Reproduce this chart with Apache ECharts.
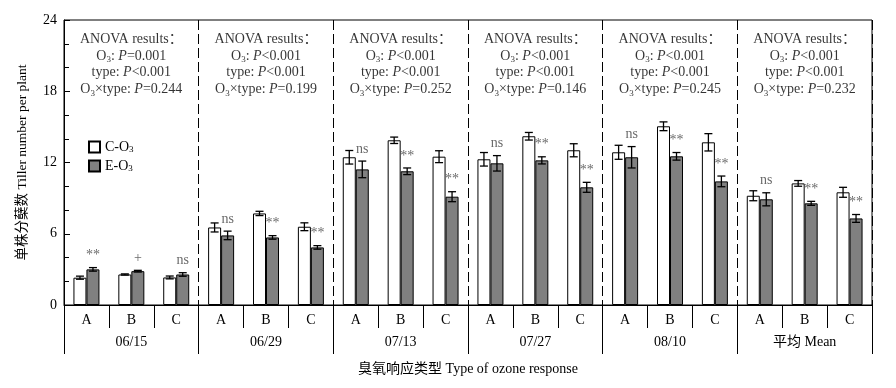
<!DOCTYPE html>
<html><head><meta charset="utf-8">
<script src="https://cdn.jsdelivr.net/npm/echarts@6/dist/echarts.min.js"></script>
<style>html,body{margin:0;padding:0;background:#fff}#c{width:896px;height:388px}</style>
</head><body><div id="c"></div>
<script>
// ---- data ----
const groups = ['06/15', '06/29', '07/13', '07/27', '08/10', '平均 Mean'];
const types = ['A', 'B', 'C'];
const ctrl    = [2.30, 2.57, 2.32, 6.53, 7.71, 6.59, 12.44, 13.87, 12.49, 12.27, 14.21, 13.03, 12.86, 15.05, 13.70, 9.20, 10.24, 9.49];
const ctrlErr = [0.13, 0.05, 0.12, 0.38, 0.18, 0.33, 0.57, 0.27, 0.50, 0.57, 0.32, 0.55, 0.59, 0.37, 0.73, 0.42, 0.24, 0.42];
const elev    = [3.00, 2.85, 2.57, 5.86, 5.69, 4.85, 11.42, 11.26, 9.12, 11.93, 12.18, 9.91, 12.44, 12.52, 10.41, 8.90, 8.56, 7.29];
const elevErr = [0.15, 0.07, 0.15, 0.36, 0.15, 0.15, 0.70, 0.28, 0.42, 0.65, 0.30, 0.42, 0.90, 0.32, 0.45, 0.55, 0.17, 0.33];
const sig = ['**', '+', 'ns', 'ns', '**', '**', 'ns', '**', '**', 'ns', '**', '**', 'ns', '**', '**', 'ns', '**', '**'];
const o3P    = ['=0.001', '<0.001', '<0.001', '<0.001', '<0.001', '<0.001'];
const typeP  = ['<0.001', '<0.001', '<0.001', '<0.001', '<0.001', '<0.001'];
const interP = ['=0.244', '=0.199', '=0.252', '=0.146', '=0.245', '=0.232'];
const yTicks = [0, 6, 12, 18, 24];
const seriesNames = ['C-O3', 'E-O3'];

// ---- chart ----
const FONT = '"Liberation Serif","Times New Roman","Noto Sans CJK SC",serif';
const BW = 13;
const catData = [];
groups.forEach(g => types.forEach(t => catData.push(g + '|' + t)));
const subRich = { sub: { fontSize: 9, fontFamily: FONT, color: '#000', verticalAlign: 'bottom', padding: [5, 0, 0, 0] },
                  i: { fontStyle: 'italic', fontSize: 14, fontFamily: FONT, color: '#000' } };

function errRender(side) {
  return function (params, api) {
    const x = api.value(0), v = api.value(1), e = api.value(2);
    const hi = api.coord([x, v + e]), lo = api.coord([x, v - e]);
    const cx = hi[0] + side * BW / 2;
    const cap = 4;
    const st = { stroke: '#000', lineWidth: 1.3 };
    return { type: 'group', children: [
      { type: 'line', shape: { x1: cx, y1: hi[1], x2: cx, y2: lo[1] }, style: st },
      { type: 'line', shape: { x1: cx - cap, y1: hi[1], x2: cx + cap, y2: hi[1] }, style: st },
      { type: 'line', shape: { x1: cx - cap, y1: lo[1], x2: cx + cap, y2: lo[1] }, style: st }
    ] };
  };
}

const chart = echarts.init(document.getElementById('c'));
chart.setOption({
  animation: false,
  backgroundColor: '#fff',
  textStyle: { fontFamily: FONT },
  grid: { left: 64, right: 24, top: 20, bottom: 83, show: true, borderColor: '#000', borderWidth: 1, backgroundColor: 'transparent' },
  legend: {
    data: seriesNames, orient: 'vertical', left: 88, top: 140, padding: 0, itemGap: 5,
    itemWidth: 11, itemHeight: 11, icon: 'rect',
    formatter: n => n.replace('3', '{sub|3}'),
    textStyle: { fontSize: 14, fontFamily: FONT, color: '#000', rich: subRich }
  },
  xAxis: [
    { type: 'category', data: catData, position: 'bottom',
      axisLine: { onZero: false, lineStyle: { color: '#000', width: 1 } },
      axisTick: { show: true, interval: 0, length: 23, lineStyle: { color: '#000' } },
      axisLabel: { interval: 0, formatter: v => v.split('|')[1], margin: 8, fontSize: 14, color: '#000', fontFamily: FONT },
      splitLine: { show: false } },
    { type: 'category', data: groups, position: 'bottom',
      axisLine: { show: false, onZero: false },
      axisTick: { show: true, interval: 0, length: 49, lineStyle: { color: '#000' } },
      axisLabel: { interval: 0, margin: 30, fontSize: 14, color: '#000', fontFamily: FONT },
      splitLine: { show: true, interval: 0, lineStyle: { color: '#000', width: 1, type: [10, 4] } },
      name: '臭氧响应类型 Type of ozone response', nameLocation: 'middle', nameGap: 57,
      nameTextStyle: { fontSize: 14, color: '#000', fontFamily: FONT } }
  ],
  yAxis: {
    type: 'value', min: yTicks[0], max: yTicks[yTicks.length - 1], interval: yTicks[1] - yTicks[0],
    axisLine: { show: true, lineStyle: { color: '#000' } },
    axisTick: { show: true, inside: true, length: 6, lineStyle: { color: '#000' } },
    minorTick: { show: true, splitNumber: 3, length: 5, lineStyle: { color: '#000' } },
    splitLine: { show: false },
    axisLabel: { fontSize: 14, margin: 7, color: '#000', fontFamily: FONT },
    name: '单株分蘖数 Tiller number per plant', nameLocation: 'middle', nameGap: 35,
    nameTextStyle: { fontSize: 13.5, color: '#000', fontFamily: FONT }
  },
  series: [
    { name: seriesNames[0], type: 'bar', xAxisIndex: 0, data: ctrl, barWidth: BW, barGap: '0%',
      itemStyle: { color: '#fff', borderColor: '#000', borderWidth: 1 } },
    { name: seriesNames[1], type: 'bar', xAxisIndex: 0, data: elev, barWidth: BW, barGap: '0%',
      itemStyle: { color: '#808080', borderColor: '#000', borderWidth: 1 } },
    { type: 'custom', xAxisIndex: 0, renderItem: errRender(-1), z: 5,
      data: ctrl.map((v, i) => [i, v, ctrlErr[i]]) },
    { type: 'custom', xAxisIndex: 0, renderItem: errRender(1), z: 5,
      data: elev.map((v, i) => [i, v, elevErr[i]]) },
    { type: 'scatter', xAxisIndex: 0, symbolSize: 0, z: 6, silent: true,
      data: elev.map((v, i) => [i, v + elevErr[i]]),
      label: { show: true, position: 'top', distance: 5, offset: [BW / 2, 0],
        formatter: p => sig[p.dataIndex], fontSize: 14, color: '#444', fontFamily: FONT } },
    { type: 'scatter', xAxisIndex: 1, symbolSize: 0, z: 6, silent: true, clip: false,
      data: groups.map((g, i) => [i, yTicks[yTicks.length - 1]]),
      label: { show: true, position: 'bottom', distance: 11, align: 'center',
        fontSize: 14, lineHeight: 16.7, color: '#000', fontFamily: FONT,
        formatter: p => {
          const i = p.dataIndex;
          return 'ANOVA results：\nO{sub|3}: {i|P}' + o3P[i] + '\ntype: {i|P}' + typeP[i] +
                 '\nO{sub|3}×type: {i|P}' + interP[i];
        },
        rich: {
          sub: { fontSize: 9, fontFamily: FONT, color: '#000', verticalAlign: 'bottom', lineHeight: 16.7, padding: [6, 0, 0, 0] },
          i: { fontStyle: 'italic', fontSize: 14, fontFamily: FONT, color: '#000', lineHeight: 16.7 }
        } } }
  ]
});
</script>
</body></html>
